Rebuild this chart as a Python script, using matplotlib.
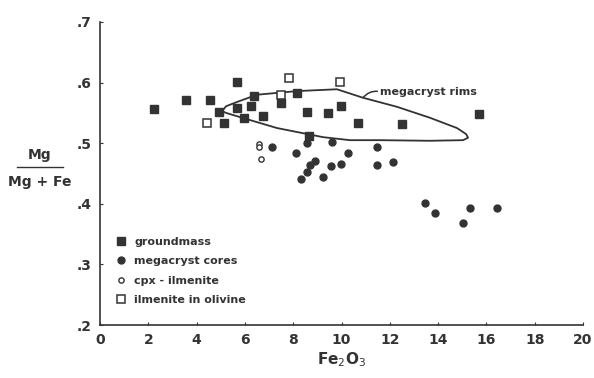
import matplotlib
matplotlib.use('Agg')
import matplotlib.pyplot as plt
from matplotlib.lines import Line2D

plt.rcParams['font.family'] = ['DejaVu Sans']

ink = '#333333'

# groundmass (filled squares)
gm_x = [2.24, 3.56, 4.55, 5.67, 4.93, 5.14, 5.67, 6.25, 6.38, 5.96, 6.75, 7.49,
        8.16, 8.57, 9.44, 9.98, 10.68, 12.5, 15.69, 8.65]
gm_y = [0.556, 0.571, 0.571, 0.601, 0.551, 0.533, 0.558, 0.561, 0.578, 0.542, 0.545, 0.566,
        0.583, 0.551, 0.550, 0.561, 0.533, 0.532, 0.548, 0.512]

# megacryst cores (filled circles)
mc_x = [7.12, 8.12, 8.55, 9.6, 10.27, 11.47, 11.47, 8.9, 8.7, 8.57, 8.32, 9.23,
        9.56, 9.98, 12.13, 13.46, 13.87, 15.03, 15.32, 16.44]
mc_y = [0.494, 0.484, 0.500, 0.502, 0.484, 0.494, 0.464, 0.471, 0.464, 0.452, 0.441, 0.444,
        0.462, 0.466, 0.469, 0.401, 0.385, 0.368, 0.393, 0.393]

# cpx-ilmenite (open circles)
cpx_x = [6.58, 6.58, 6.67]
cpx_y = [0.498, 0.493, 0.474]

# ilmenite in olivine (open squares)
io_x = [4.43, 7.83, 7.49, 9.94]
io_y = [0.533, 0.607, 0.580, 0.601]

# megacryst rims envelope
rim_x = [5.05, 5.22, 5.67, 6.50, 8.16, 9.81, 10.89, 12.30, 13.66, 14.78, 15.16, 15.24,
         15.03, 13.66, 11.59, 10.35, 9.23, 7.33, 5.80, 5.22, 5.05]
rim_y = [0.553, 0.561, 0.568, 0.580, 0.586, 0.589, 0.575, 0.560, 0.542, 0.525, 0.515, 0.509,
         0.505, 0.504, 0.505, 0.505, 0.510, 0.525, 0.543, 0.550, 0.553]

xticks = list(range(0, 21, 2))
yticks = [0.2, 0.3, 0.4, 0.5, 0.6, 0.7]
ylabels = ['.2', '.3', '.4', '.5', '.6', '.7']

fig = plt.figure(figsize=(5.94, 3.78), dpi=100)
ax = fig.add_axes([0.1684, 0.1402, 0.8131, 0.8016])

ax.plot(rim_x, rim_y, color=ink, lw=1.3)
ax.plot(gm_x, gm_y, 's', color=ink, ms=6.3, ls='none', label='groundmass')
ax.plot(mc_x, mc_y, 'o', color=ink, ms=5, ls='none', label='megacryst cores')
ax.plot(cpx_x, cpx_y, 'o', mfc='white', mec=ink, mew=1, ms=3.8, ls='none', label='cpx - ilmenite')
ax.plot(io_x, io_y, 's', mfc='white', mec=ink, mew=1.1, ms=6.3, ls='none', label='ilmenite in olivine')

ax.annotate('megacryst rims', xy=(10.89, 0.575), xytext=(11.6, 0.585),
            fontsize=8, fontweight='bold', color=ink, va='center', ha='left',
            arrowprops=dict(arrowstyle='-', color=ink, lw=1.1, relpos=(0, 0.5),
                            connectionstyle='arc3,rad=0.3', shrinkA=0, shrinkB=0))

ax.set_xlim(0, 20)
ax.set_ylim(0.2, 0.7)
ax.set_xticks(xticks)
ax.set_yticks(yticks)
ax.set_yticklabels(ylabels)
for lab in ax.get_xticklabels() + ax.get_yticklabels():
    lab.set_fontweight('bold')
    lab.set_fontsize(10)
    lab.set_color(ink)
ax.tick_params(direction='in', length=2, width=0.8, color=ink, pad=6)
ax.spines['top'].set_visible(False)
ax.spines['right'].set_visible(False)
ax.spines['left'].set_color(ink)
ax.spines['bottom'].set_color(ink)
ax.spines['left'].set_linewidth(1.2)
ax.spines['bottom'].set_linewidth(1.2)

ax.set_xlabel('Fe$_2$O$_3$', fontsize=11, fontweight='bold', color=ink, labelpad=2)

# y label as a fraction
fig.text(40 / 594, 1 - 155 / 378, 'Mg', fontsize=10, fontweight='bold', color=ink,
         ha='center', va='center')
fig.text(40 / 594, 1 - 182 / 378, 'Mg + Fe', fontsize=10, fontweight='bold', color=ink,
         ha='center', va='center')
fig.add_artist(Line2D([17 / 594, 63 / 594], [1 - 167 / 378, 1 - 167 / 378], color=ink, lw=1))

leg = ax.legend(loc='upper left', bbox_to_anchor=(0.02, 0.31), frameon=False,
                prop={'size': 8, 'weight': 'bold'}, labelspacing=0.85,
                handletextpad=0.7, handlelength=1.0, borderpad=0)
for t in leg.get_texts():
    t.set_color(ink)

fig.savefig('out.png', dpi=100)
